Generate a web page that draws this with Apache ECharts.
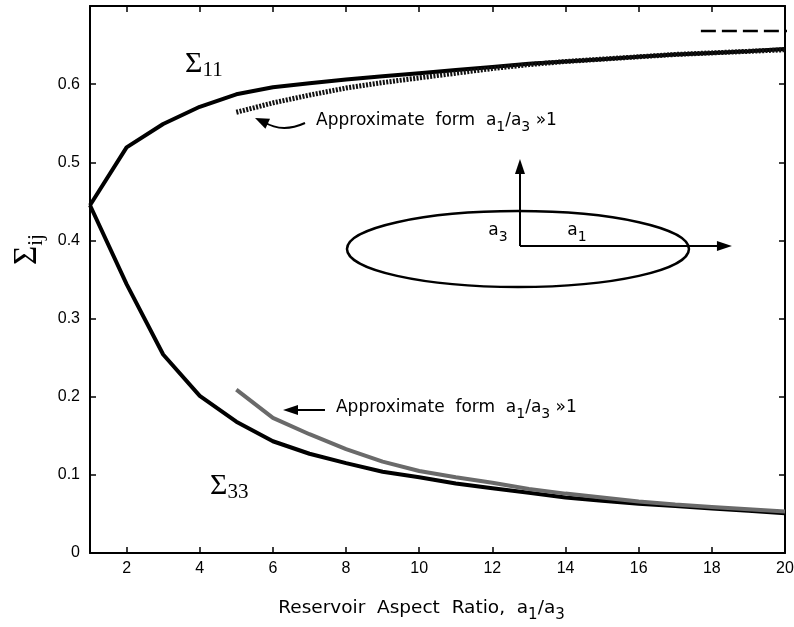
<!DOCTYPE html>
<html><head><meta charset="utf-8">
<script src="https://cdn.jsdelivr.net/npm/echarts@6/dist/echarts.min.js"></script>
<style>html,body{margin:0;padding:0;background:#fff}#c{width:794px;height:627px}</style>
</head><body><div id="c"></div>
<script>
// ---- data ----
const ratioX = [1,2,3,4,5,6,7,8,9,10,11,12,13,14,15,16,17,18,19,20];
const sigma11 = [0.445,0.519,0.549,0.571,0.587,0.596,0.601,0.606,0.610,0.614,0.618,0.622,0.626,0.629,0.632,0.635,0.638,0.640,0.642,0.645];
const sigma33 = [0.445,0.344,0.254,0.201,0.168,0.143,0.127,0.115,0.104,0.097,0.089,0.083,0.077,0.071,0.067,0.063,0.060,0.057,0.054,0.051];
const approxX = [5,6,7,8,9,10,11,12,13,14,15,16,17,18,19,20];
const approx11 = [0.564,0.576,0.586,0.595,0.602,0.608,0.614,0.620,0.625,0.629,0.632,0.635,0.638,0.640,0.642,0.644];
const approx33 = [0.209,0.173,0.152,0.133,0.117,0.105,0.097,0.090,0.082,0.076,0.071,0.066,0.062,0.059,0.056,0.053];
const asymptoteX = [17.7,20.1];
const asymptote11 = [0.668,0.668];
const xTicks = [2,4,6,8,10,12,14,16,18,20];
const yTicks = [0,0.1,0.2,0.3,0.4,0.5,0.6];

const pairs = (xs, ys) => xs.map((x, i) => [x, ys[i]]);
const chart = echarts.init(document.getElementById('c'));

const axisLine = {show:true, onZero:false, lineStyle:{color:'#000', width:2}};
const tickStyle = {color:'#000', width:1.5};
const labelFont = {color:'#000', fontFamily:'Liberation Sans', fontSize:16};

chart.setOption({
  animation:false,
  backgroundColor:'#fff',
  grid:{left:90, right:9, top:6, bottom:74, containLabel:false, outerBoundsMode:'none'},
  xAxis:[{
    type:'value', min:1, max:20, position:'bottom',
    name:'{m|Reservoir  Aspect  Ratio,  a}{s|1}{m|/a}{s|3}',
    nameLocation:'middle', nameGap:46,
    nameTextStyle:{color:'#000', padding:[0,32,0,0],
      rich:{m:{fontFamily:'DejaVu Sans', fontSize:18.5, color:'#000', verticalAlign:'bottom', padding:[0,0,5,0]},
            s:{fontFamily:'DejaVu Sans', fontSize:15, color:'#000', verticalAlign:'bottom'}}},
    axisLine, axisTick:{show:true, inside:true, length:6, customValues:xTicks, lineStyle:tickStyle},
    axisLabel:Object.assign({customValues:xTicks, margin:8}, labelFont),
    splitLine:{show:false}
  },{
    type:'value', min:1, max:20, position:'top',
    axisLine, axisTick:{show:true, inside:true, length:6, customValues:xTicks, lineStyle:tickStyle},
    axisLabel:{show:false}, splitLine:{show:false}
  }],
  yAxis:[{
    type:'value', min:0, max:0.7, position:'left',
    name:'{S|Σ}{s|ij}', nameLocation:'middle', nameGap:40, nameRotate:90,
    nameTextStyle:{padding:[0,0,0,60],
      rich:{S:{fontFamily:'Liberation Serif', fontSize:33, color:'#000', verticalAlign:'bottom', padding:[0,0,3,0]},
            s:{fontFamily:'Liberation Serif', fontSize:21, color:'#000', verticalAlign:'bottom'}}},
    axisLine, axisTick:{show:true, inside:true, length:6, customValues:yTicks, lineStyle:tickStyle},
    axisLabel:Object.assign({customValues:yTicks, margin:10, formatter:v => v === 0 ? '0' : v.toFixed(1)}, labelFont),
    splitLine:{show:false}
  },{
    type:'value', min:0, max:0.7, position:'right',
    axisLine, axisTick:{show:true, inside:true, length:6, customValues:yTicks, lineStyle:tickStyle},
    axisLabel:{show:false}, splitLine:{show:false}
  }],
  series:[
    {name:'Σ11', type:'line', data:pairs(ratioX, sigma11), symbol:'none', lineStyle:{color:'#000', width:4}, z:3},
    {name:'Σ33', type:'line', data:pairs(ratioX, sigma33), symbol:'none', lineStyle:{color:'#000', width:4}, z:3},
    {name:'Σ11 approx', type:'line', data:pairs(approxX, approx11), symbol:'none', lineStyle:{color:'#111', width:5, type:[2,1.4]}, z:4},
    {name:'Σ33 approx', type:'line', data:pairs(approxX, approx33), symbol:'none', lineStyle:{color:'#6a6a6a', width:4}, z:4},
    {name:'Σ11 limit', type:'line', data:pairs(asymptoteX, asymptote11), symbol:'none', lineStyle:{color:'#000', width:2.5, type:[15,6]}, z:4}
  ]
});

// ---- decorations (annotations, inset ellipse) placed in data coordinates ----
const P = (x, y) => chart.convertToPixel({gridIndex:0}, [x, y]);
function head(tip, from, len, w) {
  const dx = tip[0] - from[0], dy = tip[1] - from[1];
  const L = Math.hypot(dx, dy), ux = dx / L, uy = dy / L;
  const bx = tip[0] - ux * len, by = tip[1] - uy * len;
  return {type:'polygon', shape:{points:[tip, [bx - uy * w / 2, by + ux * w / 2], [bx + uy * w / 2, by - ux * w / 2]]}, style:{fill:'#000'}};
}
const noteRich = {
  m:{fontFamily:'DejaVu Sans', fontSize:17, fill:'#000', verticalAlign:'bottom', padding:[0,0,5,0]},
  s:{fontFamily:'DejaVu Sans', fontSize:14, fill:'#000', verticalAlign:'bottom'}
};
const noteText = '{m|Approximate  form  a}{s|1}{m|/a}{s|3}{m| »1}';
const sigRich = {
  S:{fontFamily:'Liberation Serif', fontSize:30, fill:'#000', verticalAlign:'bottom', padding:[0,0,2,0]},
  s:{fontFamily:'Liberation Serif', fontSize:21, fill:'#000', verticalAlign:'bottom'}
};
const aRich = {
  m:{fontFamily:'DejaVu Sans', fontSize:17, fill:'#000', verticalAlign:'bottom', padding:[0,0,5,0]},
  s:{fontFamily:'DejaVu Sans', fontSize:14, fill:'#000', verticalAlign:'bottom'}
};

const c = P(12.70, 0.389), e1 = P(12.70 + 4.675, 0.389 - 0.0486);
const o = P(12.755, 0.3929), vt = P(12.755, 0.5042), ht = P(18.55, 0.3929);
const uTip = P(5.511, 0.5567), uTail = P(6.878, 0.5503), uCtl = P(6.25, 0.537);
const lTip = P(6.276, 0.183), lTail = P(7.424, 0.183);

const g = [
  {type:'text', style:{text:'{S|Σ}{s|11}', rich:sigRich, x:P(3.597,0.6245)[0], y:P(3.597,0.6245)[1], align:'left', verticalAlign:'middle'}},
  {type:'text', style:{text:'{S|Σ}{s|33}', rich:sigRich, x:P(4.28,0.0845)[0], y:P(4.28,0.0845)[1], align:'left', verticalAlign:'middle'}},
  {type:'text', style:{text:noteText, rich:noteRich, x:P(7.18,0.5503)[0], y:P(7.18,0.5503)[1], align:'left', verticalAlign:'middle'}},
  {type:'text', style:{text:noteText, rich:noteRich, x:P(7.725,0.183)[0], y:P(7.725,0.183)[1], align:'left', verticalAlign:'middle'}},
  {type:'bezierCurve', shape:{x1:uTail[0], y1:uTail[1], cpx1:uCtl[0], cpy1:uCtl[1], x2:uTip[0] + 9, y2:uTip[1] + 4}, style:{stroke:'#000', lineWidth:2, fill:null}},
  head(uTip, [uTip[0] + 13, uTip[1] + 6], 14, 11),
  {type:'line', shape:{x1:lTail[0], y1:lTail[1], x2:lTip[0] + 10, y2:lTip[1]}, style:{stroke:'#000', lineWidth:2}},
  head(lTip, lTail, 15, 10),
  {type:'ellipse', shape:{cx:c[0], cy:c[1], rx:e1[0] - c[0], ry:e1[1] - c[1]}, style:{stroke:'#000', lineWidth:2.5, fill:null}},
  {type:'line', shape:{x1:o[0], y1:o[1], x2:vt[0], y2:vt[1] + 10}, style:{stroke:'#000', lineWidth:2}},
  head(vt, o, 15, 10),
  {type:'line', shape:{x1:o[0], y1:o[1], x2:ht[0] - 10, y2:ht[1]}, style:{stroke:'#000', lineWidth:2}},
  head(ht, o, 15, 10),
  {type:'text', style:{text:'{m|a}{s|3}', rich:aRich, x:P(12.154,0.4095)[0], y:P(12.154,0.4095)[1], align:'center', verticalAlign:'middle'}},
  {type:'text', style:{text:'{m|a}{s|1}', rich:aRich, x:P(14.313,0.4095)[0], y:P(14.313,0.4095)[1], align:'center', verticalAlign:'middle'}}
];
chart.setOption({graphic:g});
</script>
</body></html>
